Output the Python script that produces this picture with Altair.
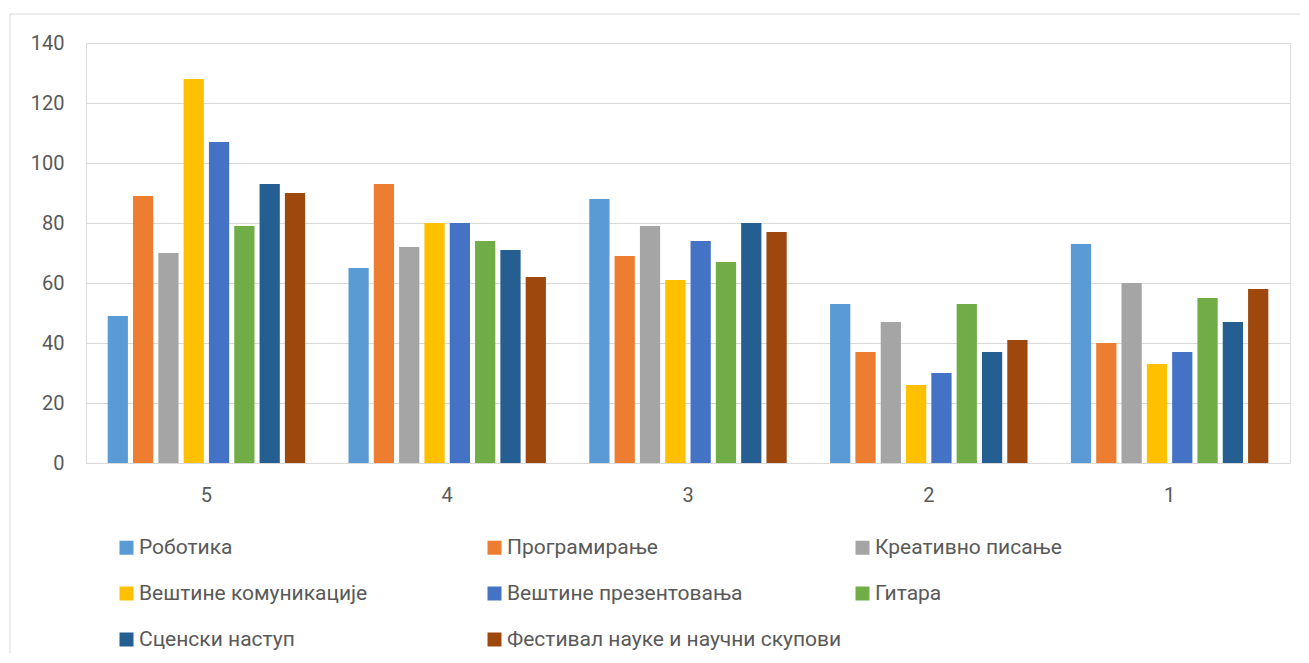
import altair as alt
import pandas as pd

groups = ["5", "4", "3", "2", "1"]
series = [
    "Роботика",
    "Програмирање",
    "Креативно писање",
    "Вештине комуникације",
    "Вештине презентовања",
    "Гитара",
    "Сценски наступ",
    "Фестивал науке и научни скупови",
]
colors = ["#5B9BD5", "#ED7D31", "#A5A5A5", "#FFC000", "#4472C4", "#70AD47", "#255E91", "#9E480E"]

robotika = [49, 65, 88, 53, 73]
programiranje = [89, 93, 69, 37, 40]
kreativno = [70, 72, 79, 47, 60]
komunikacija = [128, 80, 61, 26, 33]
prezentovanje = [107, 80, 74, 30, 37]
gitara = [79, 74, 67, 53, 55]
scenski = [93, 71, 80, 37, 47]
festival = [90, 62, 77, 41, 58]

all_vals = [robotika, programiranje, kreativno, komunikacija, prezentovanje, gitara, scenski, festival]
rows = []
for s, vals in zip(series, all_vals):
    for g, v in zip(groups, vals):
        rows.append({"group": g, "series": s, "value": v})
df = pd.DataFrame(rows)

# legend is filled column by column; reorder so it reads row by row (3 columns)
n_cols = 3
n_rows = -(-len(series) // n_cols)
legend_order = []
for c in range(n_cols):
    for r in range(n_rows):
        i = r * n_cols + c
        if i < len(series):
            legend_order.append(i)
legend_domain = [series[i] for i in legend_order]
legend_range = [colors[i] for i in legend_order]

FONT = "Roboto"
TXT = "#595959"

bars = alt.Chart(df).mark_bar().encode(
    x=alt.X("group:N", sort=groups,
            scale=alt.Scale(paddingInner=0.18, paddingOuter=0.09),
            axis=alt.Axis(title=None, labelAngle=0, domain=False, ticks=False,
                          labelPadding=22, labelFontSize=20, labelColor=TXT, labelFont=FONT)),
    xOffset=alt.XOffset("series:N", sort=series,
                        scale=alt.Scale(paddingInner=0.2, paddingOuter=0)),
    y=alt.Y("value:Q", scale=alt.Scale(domain=[0, 140], nice=False),
            axis=alt.Axis(title=None, values=[0, 20, 40, 60, 80, 100, 120, 140],
                          domain=False, ticks=False, gridColor="#d9d9d9", gridWidth=1.2,
                          labelPadding=22, labelFontSize=20, labelColor=TXT, labelFont=FONT)),
    color=alt.Color("series:N",
                    scale=alt.Scale(domain=legend_domain, range=legend_range),
                    legend=alt.Legend(title=None, orient="none", legendX=30, legendY=494,
                                      columns=n_cols, gridAlign="all", columnPadding=10,
                                      rowPadding=24, padding=0,
                                      symbolType="square", symbolSize=196, symbolStrokeWidth=0,
                                      symbolOffset=0,
                                      labelFontSize=21, labelColor=TXT, labelFont=FONT,
                                      labelLimit=600, labelOffset=2)),
)

border = alt.Chart(alt.Data(values=[{"k": 1}])).mark_rect(
    fill=None, stroke="#d9d9d9", strokeWidth=1
).encode(
    x=alt.value(-76), x2=alt.value(1260), y=alt.value(-29), y2=alt.value(700)
)

chart = alt.layer(border, bars).properties(
    width=1204, height=420,
    padding={"left": 78, "top": 35, "right": 10, "bottom": 190},
    autosize=alt.AutoSizeParams(type="none"),
).configure_view(stroke=None).configure(background="white")

chart.save("out.html", embed_options={"renderer": "svg", "actions": False})
